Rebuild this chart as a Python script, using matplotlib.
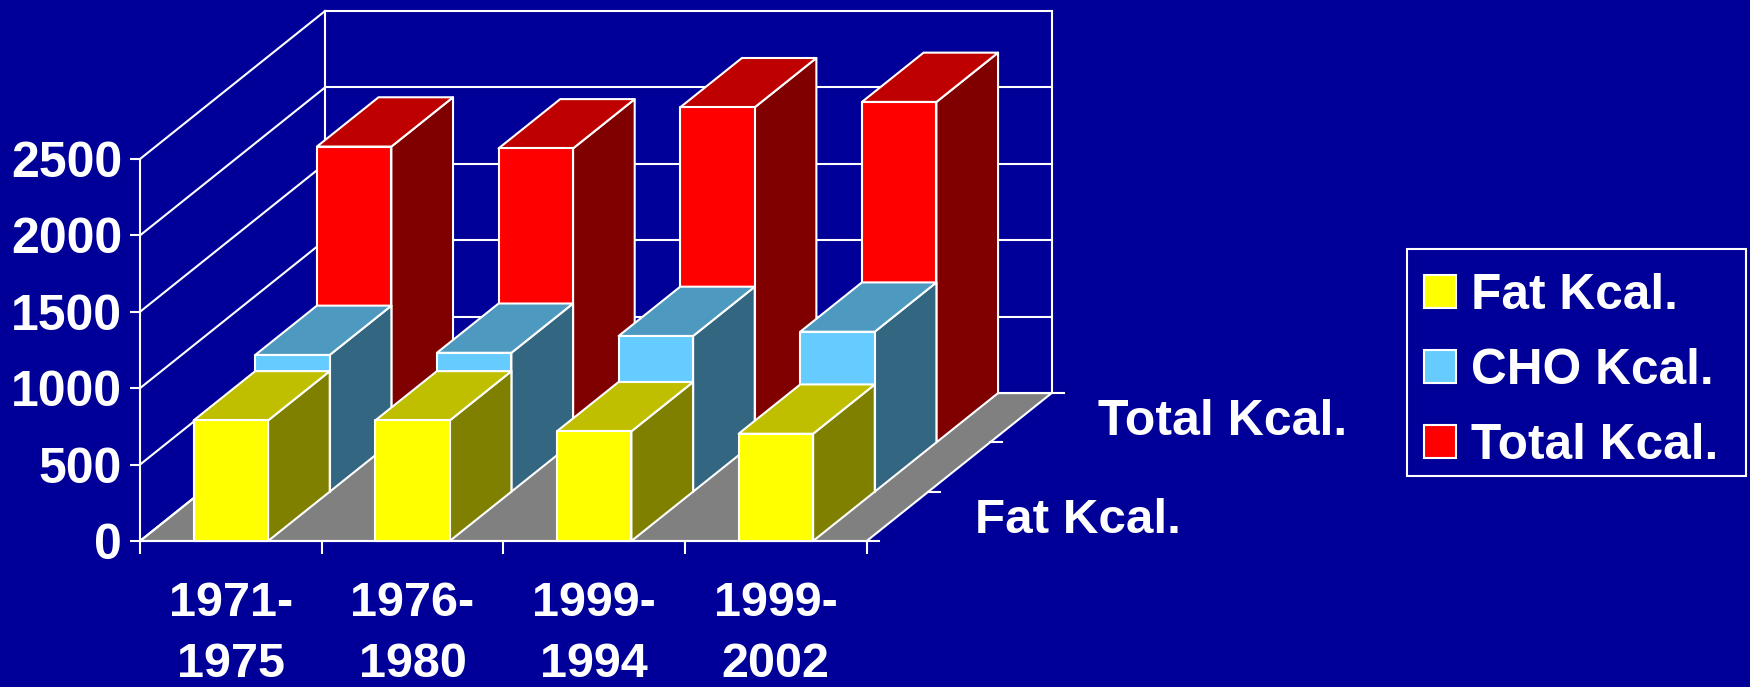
import matplotlib
matplotlib.use("Agg")
import matplotlib.pyplot as plt
from matplotlib.patches import Polygon, Patch, Rectangle

BACKGROUND = "#000099"

PERIODS = ["1971-\n1975", "1976-\n1980", "1999-\n1994", "1999-\n2002"]
SERIES_NAMES = ["Fat Kcal.", "CHO Kcal.", "Total Kcal."]
DEPTH_LABELS = ["Fat Kcal.", "Total Kcal."]

FAT_KCAL = [789, 789, 718, 702]
CHO_KCAL = [895, 909, 1019, 1047]
TOTAL_KCAL = [1936, 1924, 2193, 2228]

Y_TICKS = [0, 500, 1000, 1500, 2000, 2500]

# (front, top, side) shades for each series
FAT_COLORS = ("#FFFF00", "#BFBF00", "#808000")
CHO_COLORS = ("#66CCFF", "#4D99BF", "#336680")
TOTAL_COLORS = ("#FF0000", "#BF0000", "#800000")

# oblique projection, in axis units, for the whole floor depth
DEPTH_X = 1.018
DEPTH_Y = 968.0
BAR_WIDTH = 0.41
LINE_WIDTH = 1.5

plt.rcParams["font.family"] = ["Liberation Sans", "DejaVu Sans"]
plt.rcParams["font.weight"] = "bold"
plt.rcParams["font.size"] = 35


def add_poly(ax, points, color, zorder=3):
    ax.add_patch(Polygon(points, closed=True, facecolor=color, edgecolor="white",
                         linewidth=LINE_WIDTH, clip_on=False, joinstyle="round", zorder=zorder))


def draw_bar(ax, index, slot, value, colors):
    dx = DEPTH_X / 3
    dy = DEPTH_Y / 3
    x0 = index + (1 - BAR_WIDTH) / 2 + slot * dx
    x1 = x0 + BAR_WIDTH
    y0 = slot * dy
    y1 = y0 + value
    add_poly(ax, [(x1, y0), (x1 + dx, y0 + dy), (x1 + dx, y1 + dy), (x1, y1)], colors[2])
    add_poly(ax, [(x0, y1), (x1, y1), (x1 + dx, y1 + dy), (x0 + dx, y1 + dy)], colors[1])
    add_poly(ax, [(x0, y0), (x1, y0), (x1, y1), (x0, y1)], colors[0])


fig = plt.figure(figsize=(17.5, 6.87), dpi=100, facecolor=BACKGROUND)
ax = fig.add_axes([140 / 1750, 146 / 687, 726.7 / 1750, 382 / 687])
ax.set_facecolor("none")
ax.set_xlim(0, len(PERIODS))
ax.set_ylim(0, Y_TICKS[-1])

for side in ["top", "right"]:
    ax.spines[side].set_visible(False)
for side in ["left", "bottom"]:
    ax.spines[side].set_color("white")
    ax.spines[side].set_linewidth(LINE_WIDTH)

ax.set_yticks(Y_TICKS)
ax.set_yticklabels([str(t) for t in Y_TICKS], fontsize=36)
ax.set_xticks(range(len(PERIODS) + 1))
ax.set_xticks([i + 0.5 for i in range(len(PERIODS))], minor=True)
ax.set_xticklabels([], minor=False)
ax.set_xticklabels(PERIODS, minor=True, linespacing=1.46)
ax.tick_params(axis="y", colors="white", length=7, width=LINE_WIDTH, pad=6)
ax.tick_params(axis="x", which="major", colors="white", length=9, width=LINE_WIDTH)
ax.tick_params(axis="x", which="minor", colors="white", length=0, pad=29)

# floor
add_poly(ax, [(0, 0), (len(PERIODS), 0), (len(PERIODS) + DEPTH_X, DEPTH_Y), (DEPTH_X, DEPTH_Y)], "#808080", zorder=0.5)

# walls and gridlines
for tick in Y_TICKS:
    ax.plot([0, DEPTH_X], [tick, tick + DEPTH_Y], color="white", lw=LINE_WIDTH, clip_on=False, zorder=1)
    ax.plot([DEPTH_X, len(PERIODS) + DEPTH_X], [tick + DEPTH_Y, tick + DEPTH_Y],
            color="white", lw=LINE_WIDTH, clip_on=False, zorder=1)
for wall_x in [DEPTH_X, len(PERIODS) + DEPTH_X]:
    ax.plot([wall_x, wall_x], [DEPTH_Y, Y_TICKS[-1] + DEPTH_Y], color="white", lw=LINE_WIDTH, clip_on=False, zorder=1)

# depth ticks on the right edge of the floor
for slot in range(4):
    tx = len(PERIODS) + slot * DEPTH_X / 3
    ty = slot * DEPTH_Y / 3
    ax.plot([tx, tx + 0.066], [ty, ty], color="white", lw=LINE_WIDTH, clip_on=False, zorder=1)

for slot, (values, colors) in reversed(list(enumerate(
        [(FAT_KCAL, FAT_COLORS), (CHO_KCAL, CHO_COLORS), (TOTAL_KCAL, TOTAL_COLORS)]))):
    for i, value in enumerate(values):
        draw_bar(ax, i, slot, value, colors)

# series names along the depth axis, the middle one is skipped like in the original
for slot, label, size in zip([0, 2], DEPTH_LABELS, [35.6, 36]):
    ax.annotate(label, xy=(len(PERIODS) + (slot + 0.5) * DEPTH_X / 3, (slot + 0.5) * DEPTH_Y / 3),
                xytext=(55.5, -3), textcoords="offset points", va="center", ha="left",
                color="white", fontsize=size, annotation_clip=False)

# legend box is drawn apart since the rows are not centred in it
fig.add_artist(Rectangle((1407 / 1750, 1 - 476 / 687), 339 / 1750, 227 / 687, transform=fig.transFigure,
                         facecolor=BACKGROUND, edgecolor="white", linewidth=LINE_WIDTH))
handles = [Patch(facecolor=c[0], edgecolor="white", linewidth=LINE_WIDTH)
           for c in [FAT_COLORS, CHO_COLORS, TOTAL_COLORS]]
legend = fig.legend(handles, SERIES_NAMES, loc="upper left", bbox_to_anchor=(1424 / 1750, 1 - 273 / 687),
                    borderaxespad=0, frameon=False, labelcolor="white", fontsize=35.7,
                    handlelength=0.65, handleheight=0.65, handletextpad=0.29,
                    labelspacing=0.58, borderpad=0)

fig.savefig("out.png", facecolor=BACKGROUND)
